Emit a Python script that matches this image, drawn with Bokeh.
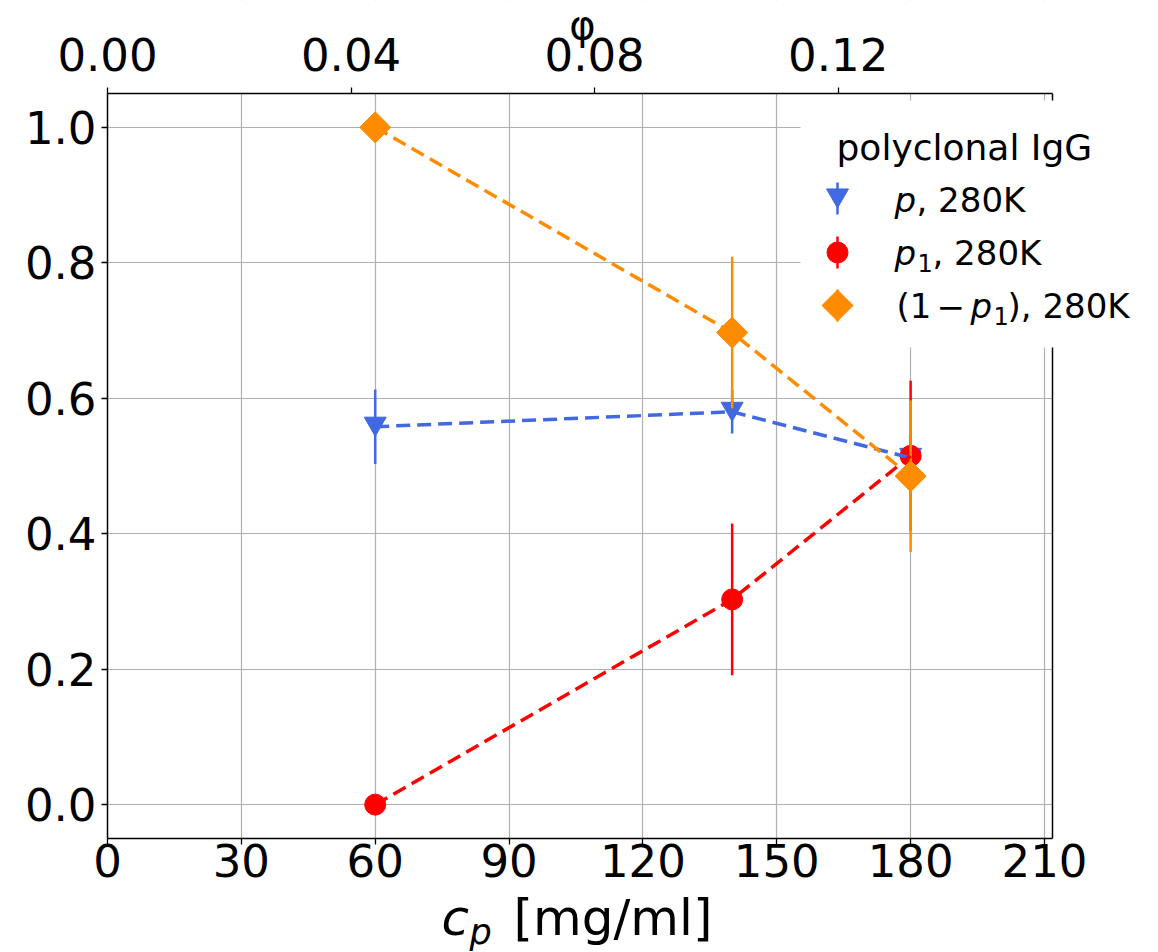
from bokeh.plotting import figure
from bokeh.models import (Range1d, LinearAxis, FixedTicker, PrintfTickFormatter,
                          Label, BoxAnnotation, ColumnDataSource, Grid)
from bokeh.transform import dodge
from bokeh.embed import file_html
from bokeh.resources import INLINE

# ---------------- data ----------------
cp = [60, 140, 180]                      # c_p [mg/ml]
p_val = [0.558, 0.580, 0.512]            # p, 280K
p_err = [0.055, 0.032, 0.030]
p1_val = [0.000, 0.303, 0.515]           # p1, 280K
p1_err = [0.000, 0.112, 0.111]
q_val = [1.000, 0.697, 0.485]            # (1 - p1), 280K
q_err = [0.000, 0.112, 0.112]

x_ticks = [0, 30, 60, 90, 120, 150, 180, 210]
y_ticks = [0.0, 0.2, 0.4, 0.6, 0.8, 1.0]
phi_ticks = [0.00, 0.04, 0.08, 0.12]

legend_title = "polyclonal IgG"

BLUE = "#4169E1"
RED = "#FF0000"
ORANGE = "#FF8C00"
FONT = "DejaVu Sans"

# ---------------- layout ----------------
W, H = 1158, 952
FL, FR, FT, FB = 107, 1052, 93, 838          # plot-area edges in px
XMIN, XMAX = 0.0, 211.8
YMIN, YMAX = -0.05, 1.05
PHIMAX = 0.1552


def X(px):
    return XMIN + (px - FL) / (FR - FL) * (XMAX - XMIN)


def Y(py):
    return YMAX - (py - FT) / (FB - FT) * (YMAX - YMIN)


def PHI(px):
    return (px - FL) / (FR - FL) * PHIMAX


TRI_SHIFT = 3.2 / (FB - FT) * (YMAX - YMIN)

# the frame covers the whole canvas; axes are pinned at the plot-area edges
p = figure(width=W, height=H, title=None,
           x_range=Range1d(X(0), X(W)), y_range=Range1d(Y(H), Y(0)),
           x_axis_location=None, y_axis_location=None,
           output_backend="svg", toolbar_location=None,
           min_border=0, min_border_left=0, min_border_right=0,
           min_border_top=0, min_border_bottom=0)
p.outline_line_color = None
p.background_fill_color = "white"
p.border_fill_color = "white"
for r in list(p.center):
    if isinstance(r, Grid):
        r.visible = False

p.extra_x_ranges = {"phi": Range1d(PHI(0), PHI(W))}

bx = LinearAxis(fixed_location=YMIN, bounds=(XMIN, XMAX), ticker=FixedTicker(ticks=x_ticks))
ly = LinearAxis(fixed_location=XMIN, bounds=(YMIN, YMAX), ticker=FixedTicker(ticks=y_ticks),
                formatter=PrintfTickFormatter(format="%.1f"))
top_axis = LinearAxis(x_range_name="phi", fixed_location=YMAX, bounds=(0, PHIMAX),
                      ticker=FixedTicker(ticks=phi_ticks),
                      formatter=PrintfTickFormatter(format="%.2f"))
right_axis = LinearAxis(fixed_location=XMAX, bounds=(YMIN, YMAX), ticker=FixedTicker(ticks=[]))

for ax in [bx, ly, top_axis, right_axis]:
    ax.axis_line_color = "black"
    ax.axis_line_width = 1.5
    ax.major_tick_line_color = "black"
    ax.major_tick_line_width = 1.3
    ax.major_tick_out = 6
    ax.major_tick_in = 0
    ax.minor_tick_line_color = None
    ax.major_label_text_font = FONT
    ax.major_label_text_font_size = "45px"
    ax.major_label_text_color = "black"
bx.major_label_standoff = -1
ly.major_label_standoff = 5
top_axis.major_label_standoff = 17

p.add_layout(bx, "below")
p.add_layout(ly, "left")
p.add_layout(top_axis, "above")
p.add_layout(right_axis, "right")

xg = Grid(dimension=0, ticker=FixedTicker(ticks=x_ticks))
yg = Grid(dimension=1, ticker=FixedTicker(ticks=y_ticks))
for g in [xg, yg]:
    g.grid_line_color = "#b0b0b0"
    g.grid_line_width = 1.2
    p.add_layout(g)

# keep the grid inside the plot area
for kw in [dict(right=XMIN), dict(left=XMAX), dict(bottom=YMAX), dict(top=YMIN)]:
    p.add_layout(BoxAnnotation(fill_color="white", fill_alpha=1.0, line_color=None,
                               level="underlay", **kw))

# ---------------- data glyphs ----------------
series = [
    (p_val, p_err, BLUE, dict(marker="inverted_triangle", size=22, angle=0.0), TRI_SHIFT),
    (p1_val, p1_err, RED, dict(marker="circle", size=21, angle=0.0), 0.0),
    (q_val, q_err, ORANGE, dict(marker="square", size=22, angle=0.785398), 0.0),
]

for vals, errs, col, mk, sh in series:
    src = ColumnDataSource(dict(x=cp, y=vals,
                                lo=[v - e for v, e in zip(vals, errs)],
                                hi=[v + e for v, e in zip(vals, errs)]))
    p.segment(x0="x", y0="lo", x1="x", y1="hi", source=src, line_color=col, line_width=2.5)
    p.scatter(x="x", y=dodge("y", sh, range=p.y_range), source=src,
              fill_color=col, line_color=col, line_width=1, **mk)

for vals, errs, col, mk, sh in series:
    p.line(cp, vals, line_color=col, line_width=3.5, line_dash="14 7")


# ---------------- texts ----------------
BASE_K = 0.36   # correction: rendered baseline sits ~0.36 em lower than requested


def lab(text, px, py, size, style="normal", align="left"):
    p.add_layout(Label(x=X(px), y=Y(py - BASE_K * size), text=text, text_font=FONT,
                       text_font_size=f"{size}px", text_font_style=style,
                       text_align=align, text_baseline="alphabetic",
                       text_color="black", level="overlay"))


# x axis title  c_p [mg/ml]
lab("c", 441, 935, 50, "italic")
lab("p", 469, 944, 35, "italic")
lab("[mg/ml]", 513, 935, 50)
# top axis title
lab("φ", 582, 39, 40, align="center")

# ---------------- legend ----------------
p.add_layout(BoxAnnotation(left=X(800), right=X(1150), top=Y(100), bottom=Y(347),
                           fill_color="white", fill_alpha=1.0, line_color=None,
                           level="annotation"))

leg_y = [198, 252, 305]
for (vals, errs, col, mk, sh), ly_px in zip(series, leg_y):
    p.segment(x0=[X(837)], y0=[Y(ly_px - 16)], x1=[X(837)], y1=[Y(ly_px + 16)],
              line_color=col, line_width=2.5, level="overlay")
    p.scatter(x=[X(837)], y=[Y(ly_px) + sh], fill_color=col, line_color=col,
              level="overlay", **mk)

lab(legend_title, 836, 160, 36)
# row 1: p, 280K
lab("p", 894, 212, 34, "italic")
lab(", 280K", 916, 212, 34)
# row 2: p1, 280K
lab("p", 894, 265, 34, "italic")
lab("1", 917, 271, 24)
lab(", 280K", 932, 265, 34)
# row 3: (1 - p1), 280K
lab("(1", 896, 318, 34)
lab("\u2212", 936, 318, 34)
lab("p", 970, 318, 34, "italic")
lab("1", 993, 324, 24)
lab("), 280K", 1007, 318, 34)

open("out.html", "w").write(file_html(p, INLINE))
